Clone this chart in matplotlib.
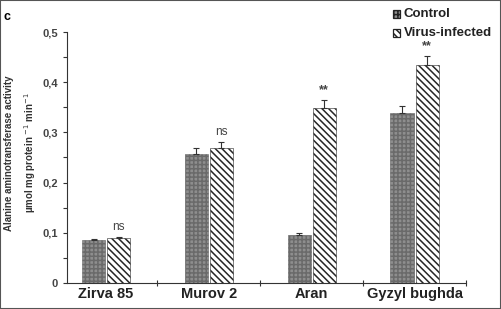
"""Alanine aminotransferase activity, control vs virus-infected."""

import matplotlib
matplotlib.use("Agg")
import matplotlib.pyplot as plt
import numpy as np
from matplotlib.patches import Rectangle

cultivars = ["Zirva 85", "Murov 2", "Aran", "Gyzyl bughda"]
control = [0.085, 0.257, 0.095, 0.338]
control_err = [0.003, 0.011, 0.005, 0.015]
infected = [0.089, 0.268, 0.349, 0.434]
infected_err = [0.003, 0.012, 0.016, 0.018]
marks = ["ns", "ns", "**", "**"]
yticks = [0, 0.1, 0.2, 0.3, 0.4, 0.5]
yticklabels = ["0", "0,1", "0,2", "0,3", "0,4", "0,5"]

plt.rcParams["font.family"] = ["Liberation Sans", "DejaVu Sans"]
plt.rcParams["hatch.linewidth"] = 1.1

CTRL_FC, CTRL_HC, CTRL_H = "#8e8e8e", "#6a6a6a", "++++"
INF_FC, INF_HC, INF_H = "white", "#262626", "\\\\\\\\\\"

fig = plt.figure(figsize=(5.01, 3.09), dpi=100)
ax = fig.add_axes([67 / 501, 26 / 309, 399 / 501, 251 / 309])

x = np.arange(len(cultivars))
w = 0.225
off = 0.122
ax.bar(x - off, control, w, color=CTRL_FC, edgecolor=CTRL_HC, hatch=CTRL_H,
       linewidth=0.4)
ax.bar(x + off, infected, w, color=INF_FC, edgecolor=INF_HC, hatch=INF_H,
       linewidth=0.4)
ax.errorbar(x - off, control, yerr=[np.zeros(4), control_err], fmt="none",
            ecolor="#333333", elinewidth=0.8, capsize=2.5, capthick=0.8)
ax.errorbar(x + off, infected, yerr=[np.zeros(4), infected_err], fmt="none",
            ecolor="#333333", elinewidth=0.8, capsize=2.5, capthick=0.8)
for xi, v, e, m in zip(x, infected, infected_err, marks):
    ax.text(xi + off, v + e + 0.008, m, ha="center", va="bottom",
            fontsize=8.5 if m == "ns" else 9, color="#444444",
            fontweight="normal" if m == "ns" else "bold")

ax.set_xlim(-0.38, 3.5)
ax.set_ylim(0, 0.5)
ax.set_xticks(x)
ax.set_xticklabels(cultivars, fontsize=10.5, fontweight="bold", color="#222222")
ax.tick_params(axis="x", which="major", length=0, pad=3)
ax.set_xticks(x + 0.5, minor=True)
ax.tick_params(axis="x", which="minor", length=4, direction="inout", width=0.8,
               color="#333333")
ax.set_yticks(yticks)
ax.set_yticklabels(yticklabels, fontsize=8, fontweight="bold", color="#444444")
ax.set_yticks(np.arange(0.05, 0.5, 0.1), minor=True)
ax.tick_params(axis="y", which="both", length=3, width=0.8, direction="out",
               color="#333333")
for s in ("top", "right"):
    ax.spines[s].set_visible(False)
for s in ("left", "bottom"):
    ax.spines[s].set_linewidth(0.8)
    ax.spines[s].set_color("#333333")

fig.text(21 / 501, 1 - 153 / 309,
         "Alanine aminotransferase activity\nµmol mg protein $^{-1}$ min$^{-1}$",
         rotation=90, ha="center", va="center", fontsize=7, fontweight="bold",
         color="#333333", linespacing=1.75)

fig.text(4 / 501, 1 - 17 / 309, "c", fontsize=9, fontweight="bold", va="center")

# legend
legend = [("Control", CTRL_FC, CTRL_H), ("Virus-infected", INF_FC, INF_H)]
for i, (lab, fc, h) in enumerate(legend):
    yc = 1 - (14 + 19 * i) / 309
    fig.patches.append(Rectangle((393 / 501, yc - 4 / 309), 7 / 501, 8 / 309,
                                 transform=fig.transFigure, facecolor=fc,
                                 edgecolor="#222222", hatch=h, linewidth=0.9))
    fig.text(404 / 501, yc, lab, fontsize=9.5, fontweight="bold", va="center",
             color="#222222")

fig.patches.append(Rectangle((0, 0), 1, 1, transform=fig.transFigure,
                             fill=False, edgecolor="#555555", linewidth=1.5))

fig.savefig("out.png", dpi=100)
